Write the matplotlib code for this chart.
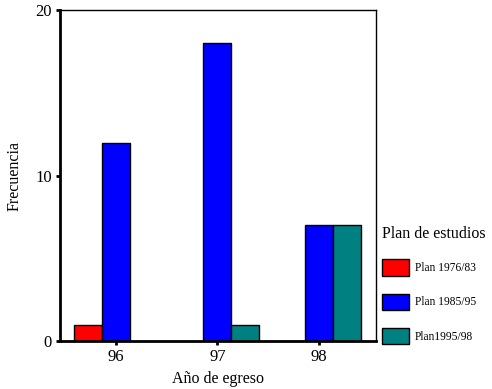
import numpy as np
import matplotlib.pyplot as plt

plt.rcParams['font.family'] = ['Liberation Serif', 'DejaVu Serif']

years = ['96', '97', '98']
plan_7683 = [1, np.nan, 0]
plan_8595 = [12, 18, 7]
plan_9598 = [np.nan, 1, 7]
labels = ['Plan 1976/83', 'Plan 1985/95', 'Plan1995/98']
colors = ['#ff0000', '#0000ff', '#008080']

fig = plt.figure(figsize=(4.92, 3.89), dpi=100)
ax = fig.add_axes([0.122, 0.123, 0.642, 0.851])

x = np.arange(len(years))
w = 0.275
series = [plan_7683, plan_8595, plan_9598]
for i, (vals, lab, c) in enumerate(zip(series, labels, colors)):
    ax.bar(x + (i - 1) * w, vals, w, color=c, edgecolor='black', linewidth=1, label=lab)

ax.set_xlim(-0.55, 2.56)
ax.set_ylim(0, 20)
ax.set_xticks(x)
ax.set_xticklabels(years, fontsize=12)
ax.set_yticks([0, 10, 20])
ax.set_yticklabels(['0', '10', '20'], fontsize=12)
ax.tick_params(axis='both', direction='out', length=3, width=2, pad=3)
ax.spines['left'].set_linewidth(2)
ax.spines['bottom'].set_linewidth(2)
ax.spines['top'].set_linewidth(1)
ax.spines['right'].set_linewidth(1)

ax.set_xlabel('Año de egreso', fontsize=11.5, labelpad=4)
ax.set_ylabel('Frecuencia', fontsize=11.5, labelpad=9)

leg = fig.legend(loc='upper left', bbox_to_anchor=(0.768, 0.432), frameon=False,
                 title='Plan de estudios', title_fontsize=11.5, fontsize=8.3,
                 handlelength=2.3, handleheight=1.8, labelspacing=1.55,
                 handletextpad=0.5, borderaxespad=0)
leg._legend_box.align = 'left'

fig.savefig('out.png', dpi=100)
